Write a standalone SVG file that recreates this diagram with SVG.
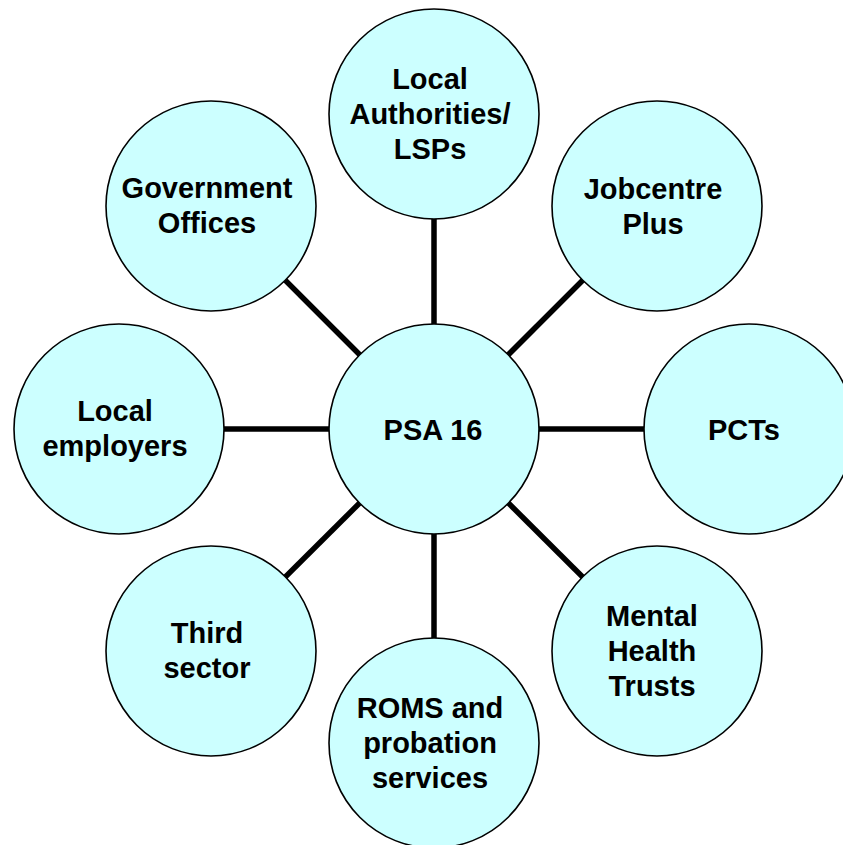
<svg xmlns="http://www.w3.org/2000/svg" width="843" height="845" viewBox="0 0 843 845">
<style>
.node{fill:#CCFFFF;stroke:#000;stroke-width:1.6}
.lbl{font-family:"Liberation Sans",Arial,sans-serif;font-weight:bold;font-size:29px;fill:#000;text-anchor:middle}
.conn{stroke:#000;stroke-width:5.5;fill:none}
</style>
<rect width="843" height="845" fill="#fff"/>
<g id="connectors" class="conn">
<line x1="434" y1="429" x2="434" y2="114"/>
<line x1="434" y1="429" x2="211" y2="206"/>
<line x1="434" y1="429" x2="657" y2="206"/>
<line x1="434" y1="429" x2="119" y2="429"/>
<line x1="434" y1="429" x2="749" y2="429"/>
<line x1="434" y1="429" x2="211" y2="651"/>
<line x1="434" y1="429" x2="657" y2="651"/>
<line x1="434" y1="429" x2="434" y2="743"/>
</g>
<g id="local-authorities">
<circle class="node" cx="434" cy="114" r="105"/>
<text class="lbl" x="430" y="89">Local</text>
<text class="lbl" x="430" y="124">Authorities/</text>
<text class="lbl" x="430" y="159">LSPs</text>
</g>
<g id="government-offices">
<circle class="node" cx="211" cy="206" r="105"/>
<text class="lbl" x="207" y="198">Government</text>
<text class="lbl" x="207" y="233">Offices</text>
</g>
<g id="jobcentre-plus">
<circle class="node" cx="657" cy="206" r="105"/>
<text class="lbl" x="653" y="199">Jobcentre</text>
<text class="lbl" x="653" y="234">Plus</text>
</g>
<g id="local-employers">
<circle class="node" cx="119" cy="429" r="105"/>
<text class="lbl" x="115" y="421">Local</text>
<text class="lbl" x="115" y="456">employers</text>
</g>
<g id="psa16">
<circle class="node" cx="434" cy="429" r="105"/>
<text class="lbl" x="433" y="440">PSA 16</text>
</g>
<g id="pcts">
<circle class="node" cx="749" cy="429" r="105"/>
<text class="lbl" x="744" y="440">PCTs</text>
</g>
<g id="third-sector">
<circle class="node" cx="211" cy="651" r="105"/>
<text class="lbl" x="207" y="643">Third</text>
<text class="lbl" x="207" y="678">sector</text>
</g>
<g id="mental-health-trusts">
<circle class="node" cx="657" cy="651" r="105"/>
<text class="lbl" x="652" y="626">Mental</text>
<text class="lbl" x="652" y="661">Health</text>
<text class="lbl" x="652" y="696">Trusts</text>
</g>
<g id="roms-probation">
<circle class="node" cx="434" cy="743" r="105"/>
<text class="lbl" x="430" y="718">ROMS and</text>
<text class="lbl" x="430" y="753">probation</text>
<text class="lbl" x="430" y="788">services</text>
</g>
</svg>
